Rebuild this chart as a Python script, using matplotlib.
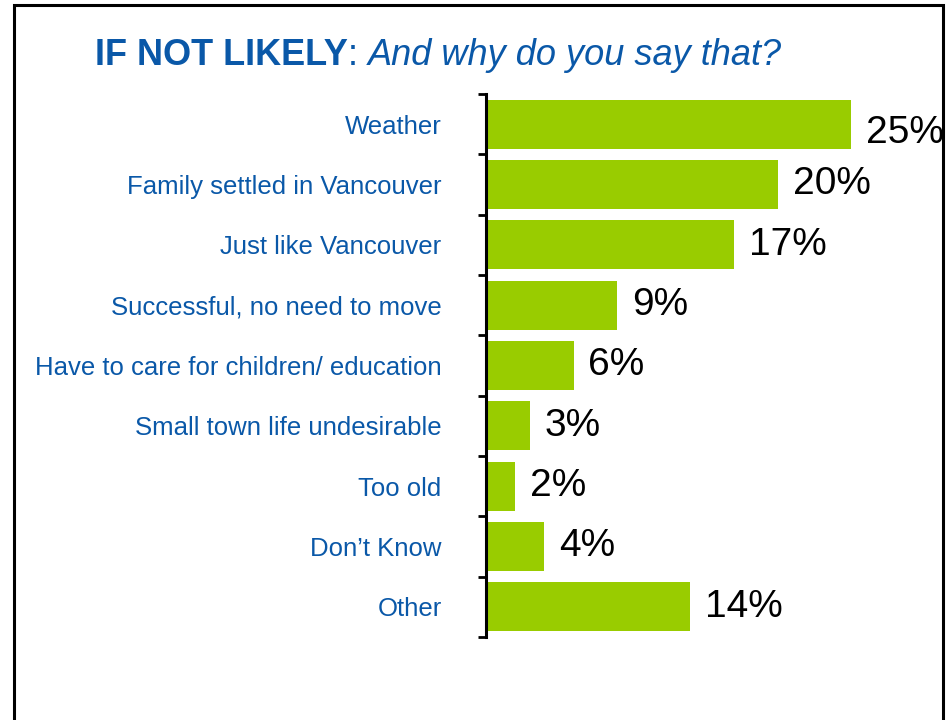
import matplotlib.pyplot as plt
from matplotlib.patches import Rectangle

plt.rcParams['font.family'] = ['Liberation Sans', 'DejaVu Sans']

# reasons given (top to bottom) and share of respondents in %
reasons = ['Weather', 'Family settled in Vancouver', 'Just like Vancouver',
           'Successful, no need to move', 'Have to care for children/ education',
           'Small town life undesirable', 'Too old', 'Don\u2019t Know', 'Other']
shares = [25, 20, 17, 9, 6, 3, 2, 4, 14]

BLUE = '#0a58a8'
GREEN = '#99cc00'

fig = plt.figure(figsize=(9.5, 7.2), dpi=100)
ax = fig.add_axes([0.5116, 0.1153, 0.3842, 0.7542])

pos = list(range(len(reasons)))
ax.barh(pos, shares, height=0.81, color=GREEN)

ax.set_ylim(len(reasons) - 0.5, -0.5)
ax.set_xlim(0, 25)

# value labels to the right of each bar (top one sits a bit lower)
for p, v in zip(pos, shares):
    dy = 0.15 if p == 0 else 0.0
    ax.text(v + 1.0, p + dy, f'{v}%', va='center', ha='left', fontsize=28,
            color='black', clip_on=False)

# category labels, ticks at the boundaries between bars
ax.set_yticks(pos)
ax.set_yticklabels(reasons, fontsize=18.5, color=BLUE, va='center_baseline')
ax.tick_params(axis='y', which='major', length=0, pad=32)
ax.set_yticks([p - 0.5 for p in range(len(reasons) + 1)], minor=True)
ax.tick_params(axis='y', which='minor', length=6, width=2, direction='out')
ax.set_xticks([])

for s in ['top', 'right', 'bottom']:
    ax.spines[s].set_visible(False)
ax.spines['left'].set_linewidth(2.2)

# title in three pieces: bold, plain colon, italic question
t1 = fig.text(95 / 950, 1 - 65 / 720, 'IF NOT LIKELY', fontsize=26,
              fontweight='bold', color=BLUE, va='baseline', ha='left')
a2 = ax.annotate(': ', xy=(1, 0), xycoords=t1, fontsize=26, color=BLUE,
                 va='bottom', ha='left')
ax.annotate('And why do you say that?', xy=(1, 0), xycoords=a2, fontsize=26,
            color=BLUE, style='italic', va='bottom', ha='left')

# frame around the slide
fig.patches.append(Rectangle((14 / 950, -0.05), (943 - 14) / 950, 1.05 - 5 / 720,
                             transform=fig.transFigure, fill=False,
                             edgecolor='black', linewidth=2.2))

fig.savefig('out.png', dpi=100)
